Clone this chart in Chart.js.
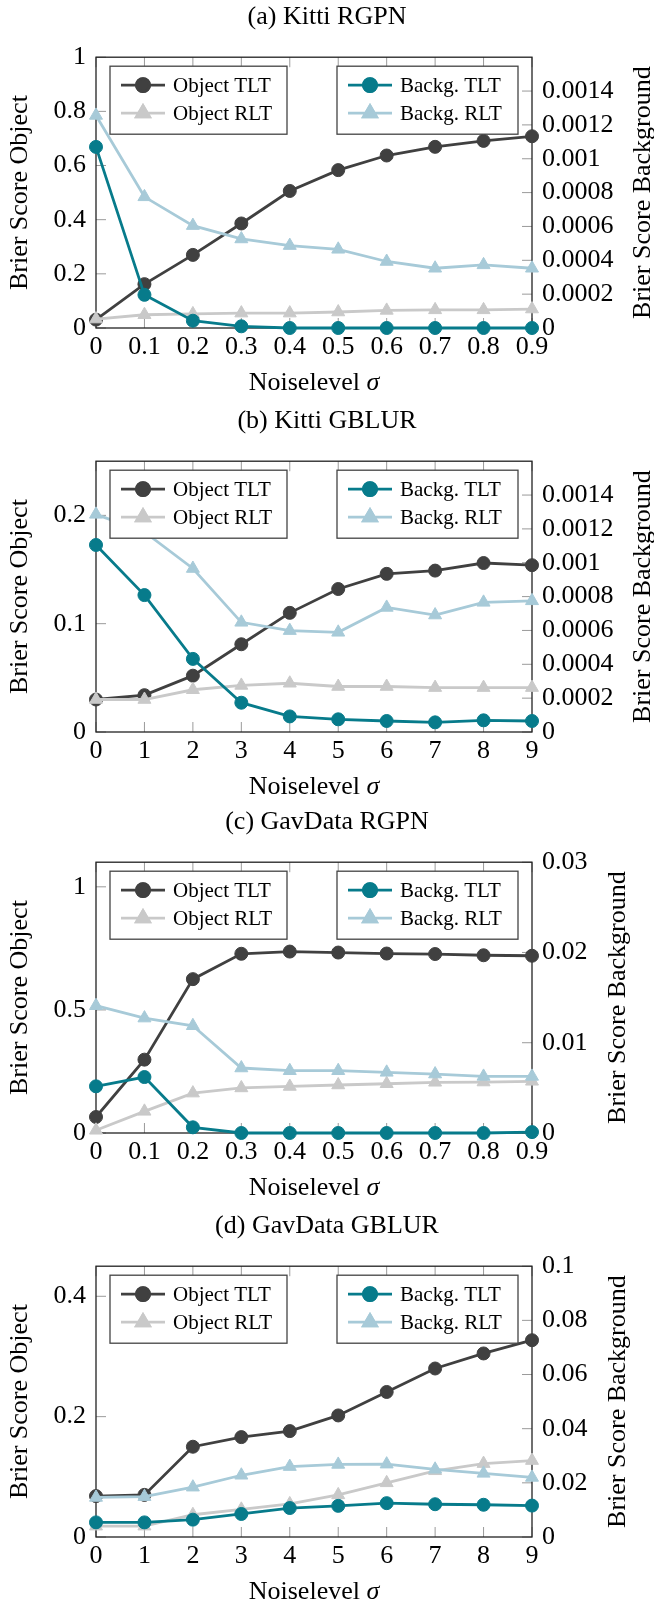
<!DOCTYPE html>
<html>
<head>
<meta charset="utf-8">
<script src="https://cdn.jsdelivr.net/npm/chart.js@4.4.0/dist/chart.umd.min.js"></script>
<style>
  html, body { margin: 0; padding: 0; background: #fff; overflow: hidden; }
  canvas { position: absolute; left: 0; }
</style>
</head>
<body>
<canvas id="grafA" width="654" height="399" style="top:0px"></canvas>
<canvas id="grafB" width="654" height="399" style="top:404px"></canvas>
<canvas id="grafC" width="654" height="399" style="top:805px"></canvas>
<canvas id="grafD" width="654" height="399" style="top:1209px"></canvas>
<script>
// x categories
const sigmaDecimal = ["0", "0.1", "0.2", "0.3", "0.4", "0.5", "0.6", "0.7", "0.8", "0.9"];
const sigmaEntero = ["0", "1", "2", "3", "4", "5", "6", "7", "8", "9"];

// (a) Kitti RGPN
const objTltA = [0.031, 0.162, 0.270, 0.386, 0.506, 0.583, 0.637, 0.669, 0.691, 0.708];
const objRltA = [0.033, 0.049, 0.052, 0.055, 0.055, 0.059, 0.065, 0.067, 0.067, 0.070];
const bgTltA = [0.00107, 0.000196, 0.000043, 0.00001, 0, 0, 0, 0, 0, 0];
const bgRltA = [0.001256, 0.000775, 0.000605, 0.000526, 0.000487, 0.000465, 0.000393, 0.000353, 0.000373, 0.000353];
const ticksIzqA = [0, 0.2, 0.4, 0.6, 0.8, 1];
const ticksDerA = [0, 0.0002, 0.0004, 0.0006, 0.0008, 0.001, 0.0012, 0.0014];

// (b) Kitti GBLUR
const objTltB = [0.030, 0.034, 0.052, 0.081, 0.110, 0.132, 0.146, 0.149, 0.156, 0.154];
const objRltB = [0.030, 0.030, 0.039, 0.043, 0.045, 0.042, 0.042, 0.041, 0.041, 0.041];
const bgTltB = [0.001105, 0.000809, 0.000432, 0.000173, 0.000092, 0.000075, 0.000065, 0.000057, 0.000069, 0.000065];
const bgRltB = [0.001286, 0.001182, 0.000966, 0.000648, 0.000599, 0.000589, 0.000736, 0.000691, 0.000766, 0.000775];
const ticksIzqB = [0, 0.1, 0.2];
const ticksDerB = [0, 0.0002, 0.0004, 0.0006, 0.0008, 0.001, 0.0012, 0.0014];

// (c) GavData RGPN
const objTltC = [0.065, 0.298, 0.625, 0.728, 0.737, 0.733, 0.729, 0.727, 0.722, 0.720];
const objRltC = [0.011, 0.088, 0.162, 0.183, 0.189, 0.195, 0.200, 0.206, 0.207, 0.210];
const bgTltC = [0.00517, 0.0062, 0.00063, 0, 0, 0, 0, 0, 0, 0.0001];
const bgRltC = [0.0141, 0.01273, 0.01188, 0.0072, 0.0069, 0.0069, 0.00672, 0.00653, 0.00627, 0.00627];
const ticksIzqC = [0, 0.5, 1];
const ticksDerC = [0, 0.01, 0.02, 0.03];

// (d) GavData GBLUR
const objTltD = [0.068, 0.070, 0.150, 0.166, 0.176, 0.202, 0.241, 0.280, 0.305, 0.327];
const objRltD = [0.018, 0.018, 0.037, 0.046, 0.055, 0.070, 0.090, 0.110, 0.122, 0.127];
const bgTltD = [0.0054, 0.0054, 0.0064, 0.0085, 0.0107, 0.0115, 0.0125, 0.0121, 0.0119, 0.0116];
const bgRltD = [0.0146, 0.0149, 0.0184, 0.0228, 0.0260, 0.0268, 0.0269, 0.0250, 0.0235, 0.0220];
const ticksIzqD = [0, 0.2, 0.4];
const ticksDerD = [0, 0.02, 0.04, 0.06, 0.08, 0.1];

const FUENTE = "'Liberation Serif', 'Times New Roman', serif";
Chart.defaults.font.family = FUENTE;
Chart.defaults.color = "#000";

// frame + inward tick marks like pgfplots
const marcoPlugin = {
    id: "marco",
    beforeDatasetsDraw(chart) {
        const ctx = chart.ctx;
        const a = chart.chartArea;
        const sx = chart.scales.x, sy = chart.scales.y, sy2 = chart.scales.y2;
        const largo = 10;
        ctx.save();
        ctx.strokeStyle = "#9a9a9a";
        ctx.lineWidth = 1;
        ctx.beginPath();
        sx.ticks.forEach(function (t, i) {
            const px = sx.getPixelForTick(i);
            ctx.moveTo(px, a.bottom);
            ctx.lineTo(px, a.bottom - largo);
            ctx.moveTo(px, a.top);
            ctx.lineTo(px, a.top + largo);
        });
        sy.ticks.forEach(function (t) {
            const py = sy.getPixelForValue(t.value);
            ctx.moveTo(a.left, py);
            ctx.lineTo(a.left + largo, py);
        });
        sy2.ticks.forEach(function (t) {
            const py = sy2.getPixelForValue(t.value);
            ctx.moveTo(a.right, py);
            ctx.lineTo(a.right - largo, py);
        });
        ctx.stroke();
        ctx.strokeStyle = "#222";
        ctx.lineWidth = 1.3;
        ctx.strokeRect(a.left, a.top, a.right - a.left, a.bottom - a.top);
        ctx.restore();
    }
};

// two legend boxes inside the plot
const leyendaPlugin = {
    id: "leyendas",
    afterDatasetsDraw(chart) {
        const ctx = chart.ctx;
        const a = chart.chartArea;
        const ds = chart.data.datasets;
        const cajas = [
            { x: a.left + 14, w: 177, items: [ds[0], ds[1]] },
            { x: a.left + 241, w: 181, items: [ds[2], ds[3]] }
        ];
        const top = a.top + 9;
        ctx.save();
        cajas.forEach(function (c) {
            ctx.fillStyle = "#fff";
            ctx.fillRect(c.x, top, c.w, 68);
            ctx.strokeStyle = "#444";
            ctx.lineWidth = 1.3;
            ctx.strokeRect(c.x, top, c.w, 68);
            c.items.forEach(function (d, i) {
                const y = top + 19 + i * 28;
                ctx.strokeStyle = d.borderColor;
                ctx.lineWidth = d.borderWidth;
                ctx.beginPath();
                ctx.moveTo(c.x + 11, y);
                ctx.lineTo(c.x + 55, y);
                ctx.stroke();
                Chart.helpers.drawPoint(ctx, {
                    pointStyle: d.pointStyle,
                    radius: d.pointRadius,
                    borderWidth: 1
                }, c.x + 33, y);
                ctx.fillStyle = d.backgroundColor;
                ctx.strokeStyle = d.borderColor;
                ctx.fill();
                ctx.stroke();
                ctx.fillStyle = "#000";
                ctx.font = "21px " + FUENTE;
                ctx.textBaseline = "middle";
                ctx.textAlign = "left";
                ctx.fillText(d.label, c.x + 63, y + 1);
            });
        });
        ctx.restore();
    }
};

// axis titles: right one reads bottom to top, x one has an italic sigma
const titulosPlugin = {
    id: "titulos",
    afterDraw(chart, args, opts) {
        const ctx = chart.ctx;
        const a = chart.chartArea;
        ctx.save();
        ctx.fillStyle = "#000";
        ctx.textBaseline = "middle";

        ctx.save();
        ctx.translate(opts.x, (a.top + a.bottom) / 2);
        ctx.rotate(-Math.PI / 2);
        ctx.font = "26px " + FUENTE;
        ctx.textAlign = "center";
        ctx.fillText(opts.text, 0, 0);
        ctx.restore();

        const parte1 = "Noiselevel ";
        const parte2 = "σ";
        ctx.font = "26px " + FUENTE;
        const w1 = ctx.measureText(parte1).width;
        ctx.font = "italic 26px " + FUENTE;
        const w2 = ctx.measureText(parte2).width;
        const x0 = (a.left + a.right) / 2 - (w1 + w2) / 2;
        const y0 = chart.height - 15.6;
        ctx.textAlign = "left";
        ctx.font = "26px " + FUENTE;
        ctx.fillText(parte1, x0, y0);
        ctx.font = "italic 26px " + FUENTE;
        ctx.fillText(parte2, x0 + w1, y0);
        ctx.restore();
    }
};

function serie(label, data, color, estilo, radio, eje, orden) {
    return {
        label: label,
        data: data,
        borderColor: color,
        backgroundColor: color,
        pointBackgroundColor: color,
        pointBorderColor: color,
        borderWidth: 2.8,
        pointBorderWidth: 1,
        pointStyle: estilo,
        pointRadius: radio,
        pointHoverRadius: radio,
        tension: 0,
        yAxisID: eje,
        order: orden,
        clip: false
    };
}

function crearGrafica(id, titulo, etiquetas, objTlt, objRlt, bgTlt, bgRlt, maxIzq, ticksIzq, maxDer, ticksDer, xTituloDer) {
    new Chart(document.getElementById(id), {
        type: "line",
        data: {
            labels: etiquetas,
            datasets: [
                serie("Object TLT", objTlt, "#404040", "circle", 6.5, "y", 3),
                serie("Object RLT", objRlt, "#c9c9c9", "triangle", 7.5, "y", 2),
                serie("Backg. TLT", bgTlt, "#077b8b", "circle", 6.5, "y2", 1),
                serie("Backg. RLT", bgRlt, "#a7cad8", "triangle", 7.5, "y2", 0)
            ]
        },
        options: {
            responsive: false,
            animation: false,
            events: [],
            layout: { padding: 0 },
            plugins: {
                legend: { display: false },
                tooltip: { enabled: false },
                title: {
                    display: true,
                    text: titulo,
                    color: "#000",
                    font: { size: 26, weight: "normal", family: FUENTE },
                    padding: { top: 2, bottom: 24 }
                },
                titulos: { text: "Brier Score Background", x: xTituloDer }
            },
            scales: {
                x: {
                    type: "category",
                    offset: false,
                    grid: { display: false, drawTicks: false },
                    border: { display: false },
                    ticks: { font: { size: 26 }, padding: 4, autoSkip: false, maxRotation: 0 },
                    afterFit: function (s) { s.height = 71; }
                },
                y: {
                    type: "linear",
                    position: "left",
                    min: 0,
                    max: maxIzq,
                    grid: { display: false, drawTicks: false },
                    border: { display: false },
                    ticks: {
                        font: { size: 26 },
                        padding: 10,
                        autoSkip: false,
                        callback: function (v) { return String(v); }
                    },
                    afterBuildTicks: function (s) { s.ticks = ticksIzq.map(function (v) { return { value: v }; }); },
                    title: {
                        display: true,
                        text: "Brier Score Object",
                        font: { size: 26 },
                        padding: { top: 5, bottom: 0 }
                    },
                    afterFit: function (s) { s.width = 96; }
                },
                y2: {
                    type: "linear",
                    position: "right",
                    min: 0,
                    max: maxDer,
                    grid: { display: false, drawTicks: false },
                    border: { display: false },
                    ticks: {
                        font: { size: 26 },
                        padding: 10,
                        autoSkip: false,
                        callback: function (v) { return String(v); }
                    },
                    afterBuildTicks: function (s) { s.ticks = ticksDer.map(function (v) { return { value: v }; }); },
                    afterFit: function (s) { s.width = 122; }
                }
            }
        },
        plugins: [marcoPlugin, leyendaPlugin, titulosPlugin]
    });
}

crearGrafica("grafA", "(a) Kitti RGPN", sigmaDecimal, objTltA, objRltA, bgTltA, bgRltA, 1, ticksIzqA, 0.0016, ticksDerA, 643);
crearGrafica("grafB", "(b) Kitti GBLUR", sigmaEntero, objTltB, objRltB, bgTltB, bgRltB, 0.25, ticksIzqB, 0.0016, ticksDerB, 643);
crearGrafica("grafC", "(c) GavData RGPN", sigmaDecimal, objTltC, objRltC, bgTltC, bgRltC, 1.1, ticksIzqC, 0.03, ticksDerC, 618);
crearGrafica("grafD", "(d) GavData GBLUR", sigmaEntero, objTltD, objRltD, bgTltD, bgRltD, 0.45, ticksIzqD, 0.1, ticksDerD, 618);
</script>
</body>
</html>
